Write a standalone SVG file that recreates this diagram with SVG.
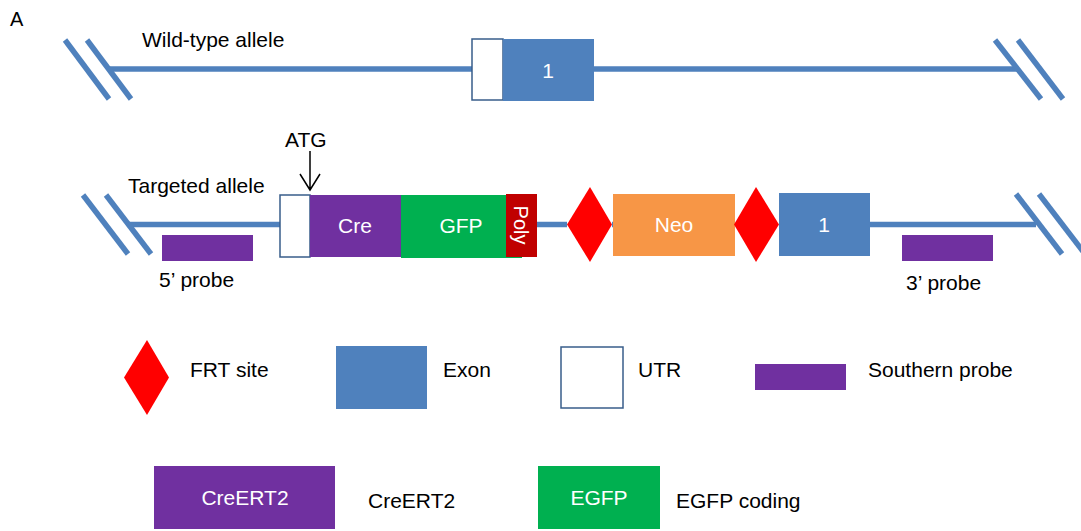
<svg xmlns="http://www.w3.org/2000/svg" width="1081" height="531" viewBox="0 0 1081 531">
<defs>
<style>
text{font-family:"Liberation Sans",Arial,sans-serif;font-size:21px;fill:#000}
.w{fill:#fff;text-anchor:middle}
.c{text-anchor:middle}
.ln{stroke:#4F81BD;stroke-width:5.5;fill:none}
.exon{fill:#4F81BD}
.utr{fill:#fff;stroke:#385D8A;stroke-width:1.5}
.cre{fill:#7030A0}
.gfp{fill:#00B050}
.poly{fill:#C00000}
.frt{fill:#FF0000}
.neo{fill:#F79646}
.probe{fill:#7030A0}
</style>
</defs>
<rect width="1081" height="531" fill="#fff"/>
<text x="10" y="26" style="font-size:20px">A</text>

<g id="connectors">
<line class="ln" x1="108" y1="69" x2="1017" y2="69"/>
<line class="ln" x1="65" y1="40" x2="109" y2="99"/>
<line class="ln" x1="87" y1="40" x2="131" y2="99"/>
<line class="ln" x1="995" y1="40" x2="1041" y2="99"/>
<line class="ln" x1="1018" y1="40" x2="1063" y2="99"/>
<line class="ln" x1="128" y1="224.5" x2="280" y2="224.5"/>
<line class="ln" x1="537" y1="224.5" x2="567" y2="224.5"/>
<line class="ln" x1="612" y1="224.5" x2="613" y2="224.5"/>
<line class="ln" x1="870" y1="224.5" x2="1036" y2="224.5"/>
<line class="ln" x1="83" y1="195" x2="128" y2="254"/>
<line class="ln" x1="106" y1="195" x2="151" y2="254"/>
<line class="ln" x1="1016" y1="194" x2="1062" y2="254"/>
<line class="ln" x1="1039" y1="194" x2="1085" y2="254"/>
<path d="M310 151 V190 M300 174 L310 190 L320 174" fill="none" stroke="#000" stroke-width="1.5"/>
</g>

<text x="142" y="47">Wild-type allele</text>
<g id="wt-utr"><rect class="utr" x="472" y="39" width="31" height="61"/></g>
<g id="wt-exon1"><rect class="exon" x="503" y="39" width="91" height="62"/><text class="w" x="548" y="78">1</text></g>

<text x="128" y="193">Targeted allele</text>
<text x="285" y="147">ATG</text>
<g id="tg-utr"><rect class="utr" x="280" y="195" width="30" height="62"/></g>
<g id="tg-cre"><rect class="cre" x="310" y="195" width="91" height="62"/><text class="w" x="355" y="233">Cre</text></g>
<g id="tg-gfp"><rect class="gfp" x="401" y="195" width="121" height="63"/><text class="w" x="461" y="233">GFP</text></g>
<g id="tg-poly"><rect class="poly" x="506" y="194" width="31" height="63"/><text class="w" transform="translate(514 225) rotate(90)" style="font-size:20px">Poly</text></g>
<g id="tg-frt1"><polygon class="frt" points="590,187 612,224.5 590,262 567,224.5"/></g>
<g id="tg-neo"><rect class="neo" x="613" y="194" width="122" height="62"/><text class="w" x="674" y="232">Neo</text></g>
<g id="tg-frt2"><polygon class="frt" points="756,187 779,224.5 756,262 734,224.5"/></g>
<g id="tg-exon1"><rect class="exon" x="779" y="193" width="91" height="63"/><text class="w" x="824" y="232">1</text></g>
<g id="probe5"><rect class="probe" x="162" y="235" width="91" height="26"/><text x="159" y="287">5’ probe</text></g>
<g id="probe3"><rect class="probe" x="902" y="235" width="91" height="26"/><text x="906" y="290">3’ probe</text></g>

<g id="legend-frt"><polygon class="frt" points="147,340 169,377.5 147,415 124,377.5"/><text x="190" y="377">FRT site</text></g>
<g id="legend-exon"><rect class="exon" x="336" y="346" width="91" height="63"/><text x="443" y="377">Exon</text></g>
<g id="legend-utr"><rect class="utr" x="561" y="347" width="62" height="61"/><text x="638" y="377">UTR</text></g>
<g id="legend-probe"><rect class="probe" x="755" y="364" width="91" height="26"/><text x="868" y="377">Southern probe</text></g>
<g id="legend-creert2"><rect class="cre" x="154" y="466" width="181" height="63"/><text class="w" x="245" y="505">CreERT2</text><text x="368" y="508">CreERT2</text></g>
<g id="legend-egfp"><rect class="gfp" x="538" y="466" width="122" height="63"/><text class="w" x="599" y="505">EGFP</text><text x="676" y="508">EGFP coding</text></g>
</svg>
